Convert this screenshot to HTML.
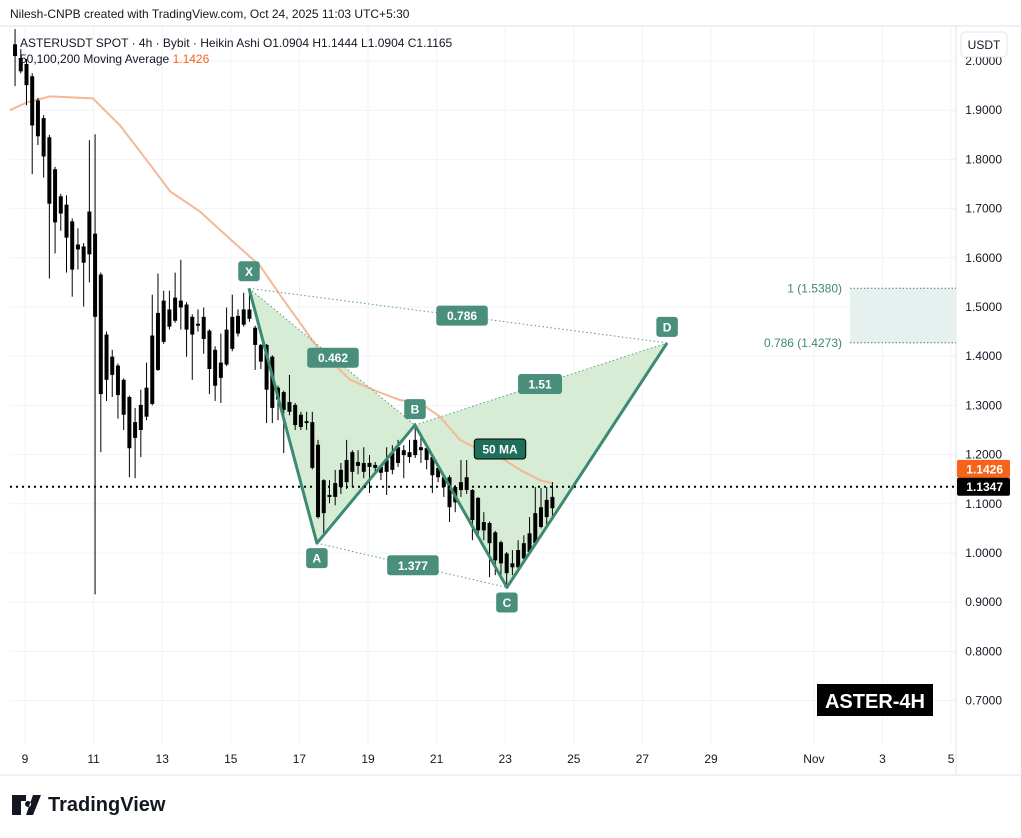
<!DOCTYPE html>
<html><head><meta charset="utf-8"><style>
body{margin:0;background:#fff;font-family:"Liberation Sans",sans-serif;}
svg text{font-family:"Liberation Sans",sans-serif;}
</style></head><body>
<svg id="c" width="1021" height="833" viewBox="0 0 1021 833" xmlns="http://www.w3.org/2000/svg">
<rect x="0" y="0" width="1021" height="833" fill="#fff"/>
<text x="10" y="18" font-size="12" fill="#131722">Nilesh-CNPB created with TradingView.com, Oct 24, 2025 11:03 UTC+5:30</text>
<line x1="0" y1="26" x2="1021" y2="26" stroke="#e0e3eb"/>
<g id="grid"></g>
<g id="fills"></g>
<g id="ma"></g>
<g id="candles"></g>
<g id="pattern"></g>
<g id="axes"></g>
<text x="20" y="47" font-size="12" fill="#131722">ASTERUSDT SPOT · 4h · Bybit · Heikin Ashi  O1.0904  H1.1444  L1.0904  C1.1165</text>
<text x="20" y="63" font-size="12" fill="#131722">50,100,200 Moving Average <tspan fill="#f7631b">1.1426</tspan></text>
<rect x="961" y="32" width="46" height="25" rx="4" fill="#fff" stroke="#e0e3eb"/>
<text x="984" y="49" font-size="12" text-anchor="middle" fill="#131722">USDT</text>
<rect x="817" y="684" width="116" height="32" fill="#000"/>
<text x="875" y="708" font-size="20" font-weight="bold" text-anchor="middle" fill="#fff">ASTER-4H</text>
<line x1="0" y1="775" x2="1021" y2="775" stroke="#e0e3eb"/>
<g>
<path d="M12 795h14v6h-5v14h-9zM28 801a3 3 0 1 0 0.1 0zM33 795h8l-8 20h-7z" fill="#131722"/>
<text x="48" y="811" font-size="20" font-weight="bold" fill="#131722">TradingView</text>
</g>
</svg>
<script>
const dates=[0,2,4,6,8,10,12,14,16,18,20,23,25,27];
const dateLabels=["9","11","13","15","17","19","21","23","25","27","29","Nov","3","5"];
const priceTicks=[2.0,1.9,1.8,1.7,1.6,1.5,1.4,1.3,1.2,1.1,1.0,0.9,0.8,0.7];
const opens=[2.034,2.006,1.994,1.969,1.920,1.884,1.845,1.780,1.725,1.708,1.674,1.627,1.623,1.694,1.649,1.566,1.444,1.399,1.381,1.352,1.317,1.266,1.301,1.336,1.442,1.488,1.513,1.495,1.519,1.513,1.505,1.480,1.466,1.480,1.452,1.413,1.387,1.454,1.480,1.482,1.495,1.495,1.458,1.423,1.423,1.399,1.336,1.327,1.307,1.301,1.281,1.268,1.266,1.220,1.148,1.118,1.142,1.169,1.189,1.205,1.185,1.183,1.183,1.179,1.175,1.189,1.203,1.215,1.209,1.205,1.230,1.215,1.213,1.195,1.173,1.154,1.154,1.134,1.144,1.154,1.128,1.112,1.063,1.061,1.042,1.022,0.999,0.979,0.971,0.989,1.002,1.020,1.053,1.073,1.091];
const closes=[2.010,1.979,1.951,1.869,1.847,1.806,1.710,1.672,1.690,1.641,1.576,1.617,1.590,1.607,1.480,1.323,1.352,1.362,1.321,1.281,1.213,1.234,1.250,1.277,1.303,1.372,1.429,1.460,1.472,1.499,1.454,1.444,1.462,1.435,1.374,1.340,1.356,1.383,1.415,1.446,1.464,1.476,1.423,1.389,1.332,1.295,1.312,1.291,1.287,1.260,1.256,1.264,1.173,1.073,1.081,1.114,1.114,1.134,1.144,1.165,1.177,1.165,1.175,1.173,1.163,1.165,1.169,1.183,1.199,1.195,1.199,1.209,1.189,1.158,1.154,1.134,1.093,1.103,1.128,1.128,1.067,1.046,1.046,1.020,0.985,0.979,0.959,0.971,1.006,1.020,1.040,1.081,1.093,1.108,1.114];
const highs=[2.065,2.024,2.004,1.975,1.925,1.890,1.850,1.785,1.730,1.727,1.680,1.660,1.630,1.839,1.851,1.570,1.450,1.413,1.385,1.355,1.320,1.295,1.332,1.387,1.525,1.568,1.533,1.533,1.570,1.596,1.510,1.485,1.495,1.499,1.455,1.420,1.446,1.499,1.525,1.495,1.529,1.531,1.462,1.425,1.425,1.402,1.340,1.330,1.362,1.305,1.287,1.287,1.287,1.230,1.150,1.148,1.169,1.183,1.230,1.209,1.209,1.215,1.199,1.185,1.180,1.215,1.219,1.230,1.219,1.230,1.264,1.234,1.215,1.199,1.175,1.156,1.158,1.138,1.189,1.189,1.130,1.114,1.083,1.064,1.045,1.025,1.002,1.006,1.026,1.036,1.073,1.134,1.132,1.134,1.144];
const lows=[1.949,1.975,1.910,1.770,1.829,1.763,1.558,1.609,1.655,1.570,1.521,1.576,1.501,1.550,0.916,1.205,1.309,1.317,1.273,1.250,1.154,1.152,1.195,1.270,1.300,1.370,1.425,1.454,1.468,1.454,1.399,1.352,1.450,1.405,1.323,1.309,1.305,1.380,1.410,1.440,1.460,1.470,1.372,1.374,1.264,1.264,1.270,1.203,1.280,1.250,1.250,1.250,1.170,1.070,1.040,1.101,1.097,1.120,1.130,1.134,1.160,1.152,1.122,1.165,1.148,1.118,1.160,1.175,1.152,1.183,1.193,1.183,1.170,1.122,1.144,1.114,1.063,1.083,1.114,1.120,1.026,1.036,1.026,0.951,0.955,0.949,0.934,0.955,0.965,0.985,0.998,1.015,1.050,1.055,1.075];
const maDays=[-0.44,0.06,0.73,1.98,2.77,3.64,4.23,5.1,6.03,6.85,7.43,8.6,9.48,10.35,10.93,11.52,12.1,12.68,13.27,13.85,14.43,15.01,15.36];
const maVals=[1.900,1.916,1.928,1.924,1.869,1.790,1.735,1.694,1.635,1.584,1.525,1.411,1.352,1.326,1.311,1.305,1.277,1.230,1.209,1.195,1.169,1.148,1.142];
const ptNames=["X","A","B","C","D"];
const ptDays=[6.53,8.51,11.37,14.05,18.72];
const ptPrices=[1.538,1.020,1.260,0.930,1.427];
const ratioLabels=["0.462","0.786","1.377","1.51"];
const targetHi=1.538, targetLo=1.4273, lastPrice=1.1347, maLast=1.1426;

const NS="http://www.w3.org/2000/svg";
const X=d=>25+d*34.3;
const Y=p=>61+(2-p)*492;
const cIdx=i=>-0.29+i/6;
function mk(tag,attrs,parent){const e=document.createElementNS(NS,tag);for(const k in attrs)e.setAttribute(k,attrs[k]);parent.appendChild(e);return e;}
const grid=document.getElementById('grid'),axes=document.getElementById('axes'),fills=document.getElementById('fills');
priceTicks.forEach(p=>{
 mk('line',{x1:10,x2:956,y1:Y(p),y2:Y(p),stroke:'#f0f3fa'},grid);
 const t=mk('text',{x:1002,y:Y(p)+4,'font-size':12,'text-anchor':'end',fill:'#131722'},axes);
 t.textContent=p.toFixed(4);
 
 
});
dates.forEach((d,i)=>{
 mk('line',{x1:X(d),x2:X(d),y1:26,y2:745,stroke:'#f0f3fa'},grid);
 const t=mk('text',{x:X(d),y:763,'font-size':12,'text-anchor':'middle',fill:'#131722'},axes);
 t.textContent=dateLabels[i];
 
 
});
mk('line',{x1:956,x2:956,y1:26,y2:775,stroke:'#e0e3eb'},grid);
const ma=document.getElementById('ma');
const mp=mk('polyline',{points:maDays.map((d,i)=>X(d)+','+Y(maVals[i])).join(' '),fill:'none',stroke:'#f5b895','stroke-width':2},ma);


const cg=document.getElementById('candles');
opens.forEach((o,i)=>{
 const x=X(cIdx(i)),c=closes[i];
 const w=mk('line',{x1:x,x2:x,y1:Y(highs[i]),y2:Y(lows[i]),stroke:'#000','stroke-width':1},cg);
 
 
 const top=Y(Math.max(o,c)),h=Math.max(1.5,Math.abs(Y(o)-Y(c)));
 const b=mk('rect',{x:x-2,y:top,width:4,height:h,fill:'#000'},cg);
 
 
});
const pg=document.getElementById('pattern');
const P=i=>[X(ptDays[i]),Y(ptPrices[i])];
const tri=(a,b,c)=>[P(a),P(b),P(c)].map(q=>q.join(',')).join(' ');
let e=mk('polygon',{points:tri(0,1,2),fill:'#d6ecd4'},fills);


e=mk('polygon',{points:tri(2,3,4),fill:'#d6ecd4'},fills);


[[0,2],[0,4],[1,3],[2,4]].forEach(([a,b])=>{
 const l=mk('line',{x1:P(a)[0],y1:P(a)[1],x2:P(b)[0],y2:P(b)[1],stroke:'#5a9c8a','stroke-width':1,'stroke-dasharray':'1.5,2.5'},pg);
 
 
});
e=mk('polyline',{points:[0,1,2,3,4].map(i=>P(i).join(',')).join(' '),fill:'none',stroke:'#3d8a72','stroke-width':3,'stroke-linejoin':'round'},pg);


function label(txt,cx,cy,name,dark){
 const w=txt.length*7.5+14;
 const r=mk('rect',{x:cx-w/2,y:cy-10,width:w,height:20,rx:3,fill:dark?'#1f6e5a':'#4a8f7c',stroke:dark?'#000':'none'},pg);
 
 
 const t=mk('text',{x:cx,y:cy+4.5,'font-size':12,'font-weight':'bold','text-anchor':'middle',fill:'#fff'},pg);
 t.textContent=txt;
}
const offs=[-17,15,-16,15,-16];
ptNames.forEach((n,i)=>{const q=P(i);label(n,q[0],q[1]+offs[i],'point-label-'+n.toLowerCase());});
const mid=(a,b)=>[(P(a)[0]+P(b)[0])/2,(P(a)[1]+P(b)[1])/2];
let m=mid(0,2);label(ratioLabels[0],m[0]+1,m[1]+1,'ratio-label');
m=mid(0,4);label(ratioLabels[1],m[0]+4,m[1]+0,'ratio-label');
m=mid(1,3);label(ratioLabels[2],m[0]+1,m[1]+0,'ratio-label');
m=mid(2,4);label(ratioLabels[3],m[0]-1,m[1]+0,'ratio-label');
label('50 MA',500,449,'ma-label',true);
e=mk('rect',{x:850,y:Y(targetHi),width:106,height:Y(targetLo)-Y(targetHi),fill:'#e6f0ee'},fills);


[targetHi,targetLo].forEach((p,i)=>{
 mk('line',{x1:850,x2:956,y1:Y(p),y2:Y(p),stroke:'#3d8a72','stroke-dasharray':'1.5,2'},pg);
 const t=mk('text',{x:842,y:Y(p)+4,'font-size':12,'text-anchor':'end',fill:'#3d8a72'},pg);
 t.textContent=(i?'0.786':'1')+' ('+p.toFixed(4)+')';
 
 
});
mk('line',{x1:10,x2:956,y1:Y(lastPrice),y2:Y(lastPrice),stroke:'#000','stroke-width':2,'stroke-dasharray':'2,4'},axes);
[[maLast,'#f7631b',-14],[lastPrice,'#000',0]].forEach(([p,col,dy])=>{
 const y=Y(p)+dy;
 const r=mk('rect',{x:957,y:y-9,width:53,height:18,rx:2,fill:col},axes);
 
 
 const t=mk('text',{x:1003,y:y+4.5,'font-size':12,'font-weight':'bold','text-anchor':'end',fill:'#fff'},axes);
 t.textContent=p.toFixed(4);
});
</script>
</body></html>
